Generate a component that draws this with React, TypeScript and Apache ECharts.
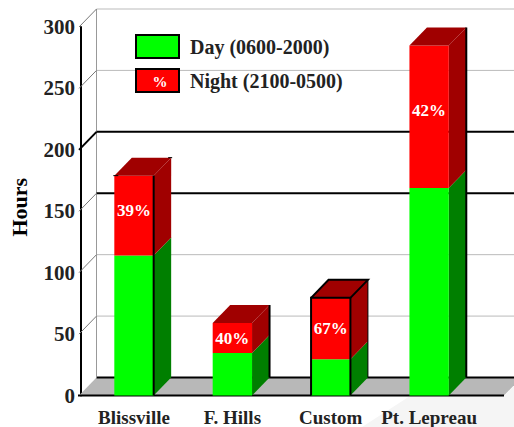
import React, { useEffect, useRef } from "react";
import * as echarts from "echarts";

const categories = ["Blissville", "F. Hills", "Custom", "Pt. Lepreau"];
const dayHours = [114, 34.5, 29.5, 169];
const nightHours = [65, 24.5, 50, 116];
const percentLabels = ["39%", "40%", "67%", "42%"];
const yTicks = [0, 50, 100, 150, 200, 250, 300];
const boldGridTicks = [150, 200];
const barEdgeStyles = ["frontRight", "backRight", "all", "backRight"];
const labelRaise = [5, 0, 0, 6];

const FONT = '"Liberation Serif", "Times New Roman", serif';
const DEPTH_X = 17.5;
const DEPTH_Y = 18;
const AXIS_X = 79;
const BACK_X = AXIS_X + DEPTH_X;
const FLOOR_RIGHT = 504;

function edge(points: number[][], lineWidth: number) {
  return { type: "polyline", shape: { points }, style: { fill: "none", stroke: "#000", lineWidth } };
}

function barShapes(api: any, base: number, top: number, front: string, dark: string, isTopSegment: boolean, edgeStyle: string, label?: string, raise = 0) {
  const idx = api.value(0);
  const [cx, y0] = api.coord([idx, base]);
  const [, y1] = api.coord([idx, top]);
  const [, yBottom] = api.coord([idx, 0]);
  const w = api.size([1, 0])[0] * 0.4;
  const l = cx - w / 2;
  const r = cx + w / 2;
  const children: any[] = [
    {
      type: "polygon",
      shape: { points: [[r, y1], [r + DEPTH_X, y1 - DEPTH_Y], [r + DEPTH_X, y0 - DEPTH_Y], [r, y0]] },
      style: { fill: dark },
    },
    { type: "rect", shape: { x: l, y: y1, width: w, height: y0 - y1 }, style: { fill: front } },
  ];
  if (isTopSegment) {
    children.push({
      type: "polygon",
      shape: { points: [[l, y1], [l + DEPTH_X, y1 - DEPTH_Y], [r + DEPTH_X, y1 - DEPTH_Y], [r, y1]] },
      style: { fill: dark },
    });
    const backTop = y1 - DEPTH_Y;
    const backBottom = yBottom - DEPTH_Y;
    if (edgeStyle === "frontRight") {
      children.push(edge([[r, y1], [r, yBottom]], 2));
      children.push(edge([[l - 1, y1], [l + 4, y1]], 1));
      children.push(edge([[r + DEPTH_X - 3, backTop], [r + DEPTH_X + 1, backTop]], 1));
    }
    if (edgeStyle === "backRight") {
      children.push(edge([[r + DEPTH_X, backTop], [r + DEPTH_X, backBottom]], 2));
    }
    if (edgeStyle === "all") {
      children.push(edge([[l, yBottom], [l, y1], [r, y1], [r, yBottom]], 2));
      children.push(edge([[l, y1], [l + DEPTH_X, backTop], [r + DEPTH_X, backTop], [r, y1]], 2));
      children.push(edge([[r + DEPTH_X, backTop], [r + DEPTH_X, backBottom]], 1));
    }
  }
  if (label) {
    children.push({
      type: "text",
      style: {
        x: cx,
        y: (y0 + y1) / 2 - raise,
        text: label,
        fill: "#fff",
        font: `bold 17px ${FONT}`,
        align: "center",
        verticalAlign: "middle",
      },
    });
  }
  return { type: "group", children };
}

export default function App() {
  const ref = useRef<HTMLDivElement>(null);
  useEffect(() => {
    const chart = echarts.init(ref.current!, undefined, { renderer: "svg" });
    chart.setOption({
      animation: false,
      backgroundColor: "#fff",
      textStyle: { fontFamily: FONT },
      grid: { left: 82.8, width: 395.5, top: 27, bottom: 31.5 },
      legend: {
        left: 130,
        top: 29,
        orient: "vertical",
        itemWidth: 43,
        itemHeight: 23,
        itemGap: 9,
        selectedMode: false,
        data: [
          { name: "Day (0600-2000)", icon: "rect", itemStyle: { color: "#00ff00", borderColor: "#000", borderWidth: 2 } },
          { name: "Night (2100-0500)", icon: "rect", itemStyle: { color: "#ff0000", borderColor: "#000", borderWidth: 2 } },
        ],
        textStyle: { fontFamily: FONT, fontWeight: "bold", fontSize: 20, color: "#222", padding: [0, 0, 0, 6] },
      },
      xAxis: {
        type: "category",
        data: categories,
        axisLine: { show: false },
        axisTick: { show: false },
        axisLabel: { interval: 0, fontFamily: FONT, fontWeight: "bold", fontSize: 19, color: "#222", margin: 12 },
      },
      yAxis: {
        type: "value",
        min: 0,
        max: 300,
        interval: 50,
        offset: 3.8,
        name: "Hours",
        nameLocation: "middle",
        nameGap: 51,
        nameRotate: 90,
        nameTextStyle: { fontFamily: FONT, fontWeight: "bold", fontSize: 22, color: "#000", padding: [0, 0, 0, 8] },
        axisLine: { show: true, lineStyle: { color: "#000", width: 2 } },
        axisTick: { show: false },
        splitLine: { show: false },
        axisLabel: { fontFamily: FONT, fontWeight: "bold", fontSize: 21, color: "#222", margin: 6, verticalAlign: "middle", padding: [4, 0, 0, 0], lineHeight: 21 },
      },
      graphic: [
        {
          type: "polygon",
          z: -1,
          shape: { points: [[362, 427], [410, 396], [504, 396], [514, 386], [514, 427]] },
          style: { fill: "#f5f5f5" },
        },
        {
          type: "text",
          z: 10,
          style: { x: 160, y: 82, text: "%", fill: "#fff", font: `bold 15px ${FONT}`, align: "center", verticalAlign: "middle" },
        },
      ],
      series: [
        {
          name: "Walls",
          type: "custom",
          clip: false,
          silent: true,
          z: 1,
          data: yTicks.map((t) => [0, t]),
          encode: { x: 0, y: 1 },
          renderItem: (_p: any, api: any) => {
            const tick = api.value(1);
            const [, y] = api.coord([0, tick]);
            const bold = boldGridTicks.includes(tick);
            const children: any[] = [];
            if (tick === 0) {
              children.push({
                type: "polygon",
                shape: { points: [[AXIS_X, y], [BACK_X, y - DEPTH_Y], [FLOOR_RIGHT + DEPTH_X, y - DEPTH_Y], [FLOOR_RIGHT, y]] },
                style: { fill: "#b8b8b8" },
              });
              children.push({ type: "line", shape: { x1: AXIS_X - 1, y1: y, x2: FLOOR_RIGHT, y2: y }, style: { stroke: "#000", lineWidth: 2 } });
              children.push({ type: "line", shape: { x1: BACK_X, y1: y - DEPTH_Y, x2: FLOOR_RIGHT + DEPTH_X, y2: y - DEPTH_Y }, style: { stroke: "#000", lineWidth: 2 } });
              const [, yTop] = api.coord([0, 300]);
              children.push({ type: "line", shape: { x1: BACK_X, y1: yTop - DEPTH_Y, x2: BACK_X, y2: y - DEPTH_Y }, style: { stroke: "#999", lineWidth: 1 } });
            } else {
              children.push({
                type: "line",
                shape: { x1: BACK_X, y1: y - DEPTH_Y, x2: FLOOR_RIGHT + DEPTH_X, y2: y - DEPTH_Y },
                style: { stroke: bold ? "#000" : "#bbb", lineWidth: bold ? 2 : 1 },
              });
              children.push({
                type: "line",
                shape: { x1: AXIS_X, y1: y, x2: BACK_X, y2: y - DEPTH_Y },
                style: { stroke: tick === 200 ? "#000" : "#777", lineWidth: tick === 200 ? 2 : 1 },
              });
            }
            return { type: "group", children };
          },
        },
        {
          name: "Day (0600-2000)",
          type: "custom",
          clip: false,
          z: 2,
          data: categories.map((_, i) => [i, dayHours[i]]),
          encode: { x: 0, y: 1 },
          itemStyle: { color: "#00ff00" },
          renderItem: (p: any, api: any) =>
            barShapes(api, 0, api.value(1), "#00ff00", "#007f00", false, barEdgeStyles[p.dataIndex]),
        },
        {
          name: "Night (2100-0500)",
          type: "custom",
          clip: false,
          z: 3,
          data: categories.map((_, i) => [i, dayHours[i] + nightHours[i], dayHours[i]]),
          encode: { x: 0, y: 1 },
          itemStyle: { color: "#ff0000" },
          renderItem: (p: any, api: any) =>
            barShapes(api, api.value(2), api.value(1), "#ff0000", "#a00000", true, barEdgeStyles[p.dataIndex], percentLabels[p.dataIndex], labelRaise[p.dataIndex]),
        },
      ],
    });
    return () => chart.dispose();
  }, []);
  return <div ref={ref} style={{ position: "fixed", left: 0, top: 0, width: 514, height: 427 }} />;
}
